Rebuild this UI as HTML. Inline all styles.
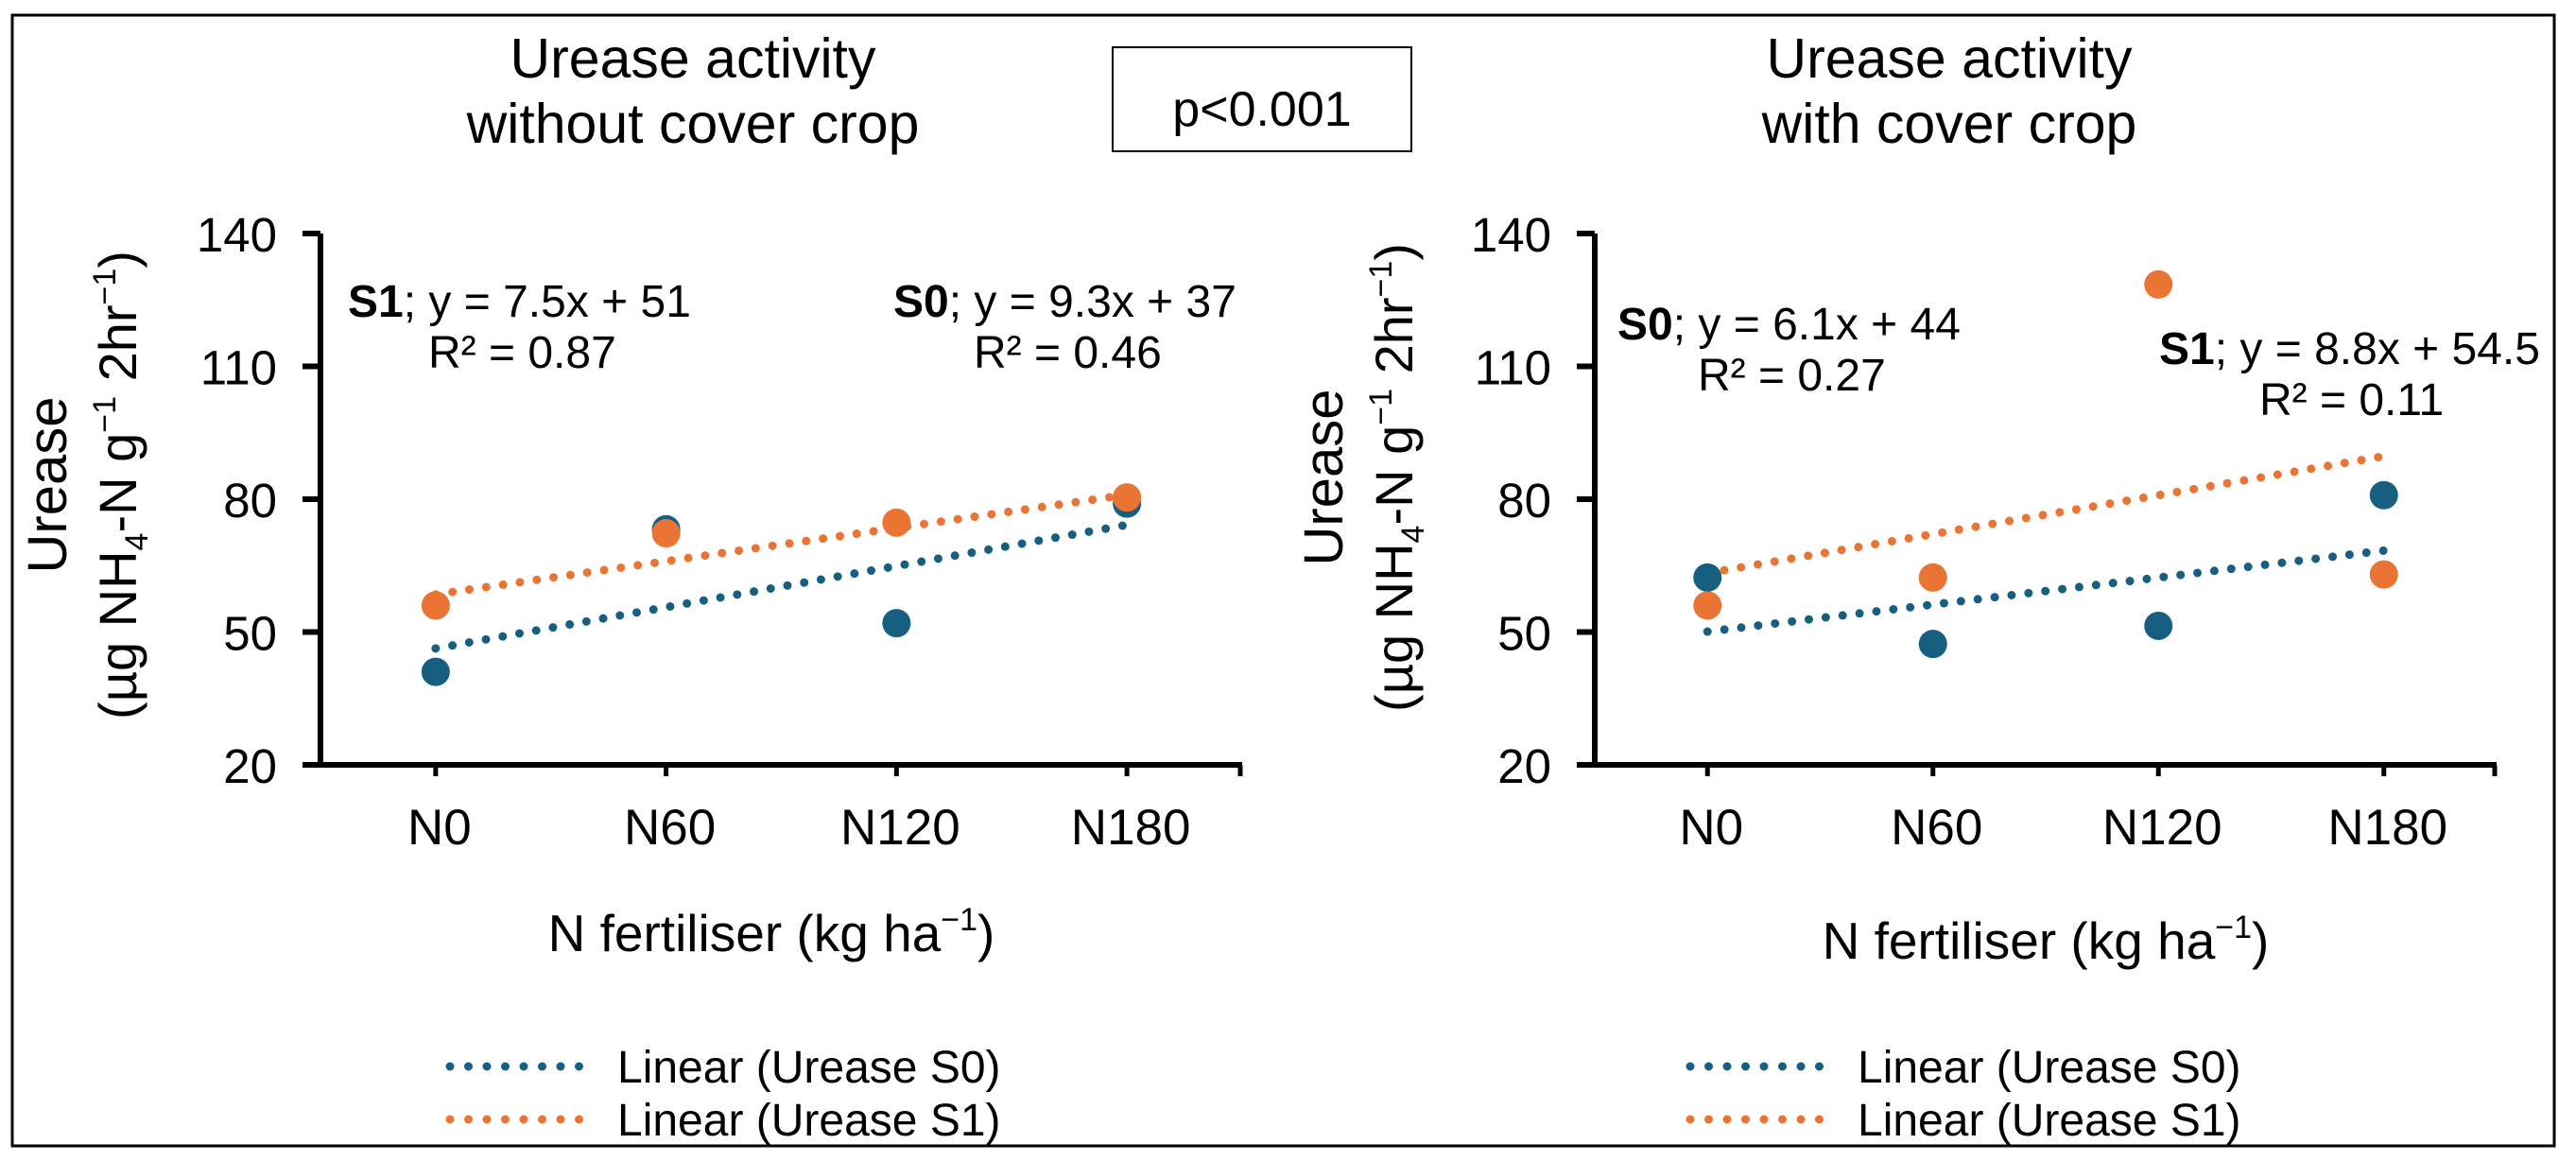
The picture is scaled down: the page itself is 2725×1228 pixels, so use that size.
<!DOCTYPE html>
<html><head><meta charset="utf-8"><style>
html,body{margin:0;padding:0;background:#fff}
svg{display:block;font-family:"Liberation Sans",Arial,sans-serif}
</style></head><body>
<svg id="fig" width="2725" height="1228" viewBox="0 0 2725 1228" xmlns="http://www.w3.org/2000/svg">
<rect x="13" y="16" width="2689" height="1196" fill="none" stroke="#000" stroke-width="3"/>
<rect x="1177" y="50" width="316" height="110" fill="#fff" stroke="#000" stroke-width="2"/>
<text x="1335" y="133" font-size="52" text-anchor="middle">p&lt;0.001</text>
<g id="left"></g>
<g id="right"></g>
</svg>
<script>
const categories = ["N0","N60","N120","N180"];
const yTicks = [20,50,80,110,140];
const leftS0 = [41,73.2,52,79];
const leftS1 = [56,72.3,74.7,80.4];
const leftTrendS0 = [9.3,37];
const leftTrendS1 = [7.5,51];
const rightS0 = [62.3,47.3,51.4,80.9];
const rightS1 = [56,62.3,128.5,63];
const rightTrendS0 = [6.1,44];
const rightTrendS1 = [8.8,54.5];

const NS="http://www.w3.org/2000/svg";
const BLUE="#165f80", ORANGE="#e97433";
function mk(parent,tag,attrs,text){const e=document.createElementNS(NS,tag);for(const k in attrs)e.setAttribute(k,attrs[k]);if(text!==undefined)e.textContent=text;parent.appendChild(e);return e;}

function drawChart(g,cfg){
  const x0=cfg.x0,x1=cfg.x1,yTop=247,yBot=809,ymin=20,ymax=140;
  const band=(x1-x0)/categories.length;
  const X=i=>x0+band*(i+0.5);
  const Y=v=>yBot-(v-ymin)/(ymax-ymin)*(yBot-yTop);
  cfg.title.forEach((t,i)=>{const e=mk(g,'text',{x:cfg.titleX,y:82+69*i,'font-size':59,'text-anchor':'middle'},t);
    });
  let a=mk(g,'line',{x1:x0,y1:yTop,x2:x0,y2:yBot+3,stroke:'#000','stroke-width':6});
  
  a=mk(g,'line',{x1:x0-19,y1:yBot,x2:x1,y2:yBot,stroke:'#000','stroke-width':6});
  
  yTicks.forEach(v=>{
    const t=mk(g,'line',{x1:x0-19,y1:Y(v),x2:x0,y2:Y(v),stroke:'#000','stroke-width':6});
    
    const l=mk(g,'text',{x:x0-46,y:Y(v)+19,'font-size':51,'text-anchor':'end'},String(v));
    
  });
  categories.forEach((c,i)=>{
    const t=mk(g,'line',{x1:X(i),y1:yBot,x2:X(i),y2:yBot+12,stroke:'#000','stroke-width':5});
    
    const l=mk(g,'text',{x:X(i)+4,y:893,'font-size':53,'text-anchor':'middle'},c);
    
  });
  const te=mk(g,'line',{x1:x1-2,y1:yBot,x2:x1-2,y2:yBot+12,stroke:'#000','stroke-width':5});
  
  const xt=mk(g,'text',{x:cfg.xTitleX,y:cfg.xTitleY,'font-size':55,'text-anchor':'middle'});
  
  xt.innerHTML='N fertiliser (kg ha<tspan font-size="34" dy="-22">−1</tspan><tspan dy="22">)</tspan>';
  const yt=mk(g,'g',{transform:`translate(${cfg.yLabX},${cfg.yLabY}) rotate(-90)`});
  
  mk(yt,'text',{x:0,y:18,'font-size':58,'text-anchor':'middle'},'Urease');
  const y2=mk(yt,'text',{x:0,y:92,'font-size':56,'text-anchor':'middle'});
  y2.innerHTML='(µg NH<tspan font-size="34" dy="12">4</tspan><tspan dy="-12">-N g</tspan><tspan font-size="34" dy="-22">−1</tspan><tspan dy="22"> 2hr</tspan><tspan font-size="34" dy="-22">−1</tspan><tspan dy="22">)</tspan>';
  [[cfg.t0,BLUE,'trendline-s0'],[cfg.t1,ORANGE,'trendline-s1']].forEach(([t,col,n])=>{
    const l=mk(g,'line',{x1:X(0),y1:Y(t[0]*1+t[1]),x2:X(3),y2:Y(t[0]*4+t[1]),stroke:col,'stroke-width':9,'stroke-linecap':'round','stroke-dasharray':'0 18'});
    
  });
  [[cfg.s0,BLUE,'point-s0'],[cfg.s1,ORANGE,'point-s1']].forEach(([s,col,n])=>{
    s.forEach((v,i)=>{const c=mk(g,'circle',{cx:X(i),cy:Y(v),r:15,fill:col});
      });
  });
  cfg.eqs.forEach(q=>{
    const e=mk(g,'text',{x:q.x,y:q.y,'font-size':48});
    
    e.innerHTML=`<tspan font-weight="bold">${q.s}</tspan>; y = ${q.eq}`;
    const r=mk(g,'text',{x:q.rx,y:q.y+54,'font-size':48},q.r);
    
  });
  [[BLUE,'Linear (Urease S0)',1128],[ORANGE,'Linear (Urease S1)',1184]].forEach(([col,t,y])=>{
    const l=mk(g,'line',{x1:cfg.legX,y1:y,x2:cfg.legX+156,y2:y,stroke:col,'stroke-width':9,'stroke-linecap':'round','stroke-dasharray':'0 19.5'});
    
    const tx=mk(g,'text',{x:cfg.legX+177,y:y+17,'font-size':48},t);
    
  });
}
drawChart(document.getElementById('left'),{x0:339,x1:1314,title:['Urease activity','without cover crop'],titleX:733,
  xTitleX:816,xTitleY:1006,yLabX:52,yLabY:513,s0:leftS0,s1:leftS1,t0:leftTrendS0,t1:leftTrendS1,legX:476,
  eqs:[{s:'S1',eq:'7.5x + 51',x:368,y:335,rx:453,r:'R² = 0.87'},{s:'S0',eq:'9.3x + 37',x:945,y:335,rx:1030,r:'R² = 0.46'}]});
drawChart(document.getElementById('right'),{x0:1687,x1:2641,title:['Urease activity','with cover crop'],titleX:2062,
  xTitleX:2164,xTitleY:1014,yLabX:1402,yLabY:505,s0:rightS0,s1:rightS1,t0:rightTrendS0,t1:rightTrendS1,legX:1788,
  eqs:[{s:'S0',eq:'6.1x + 44',x:1711,y:359,rx:1796,r:'R² = 0.27'},{s:'S1',eq:'8.8x + 54.5',x:2284,y:385,rx:2390,r:'R² = 0.11'}]});
</script>
</body></html>
